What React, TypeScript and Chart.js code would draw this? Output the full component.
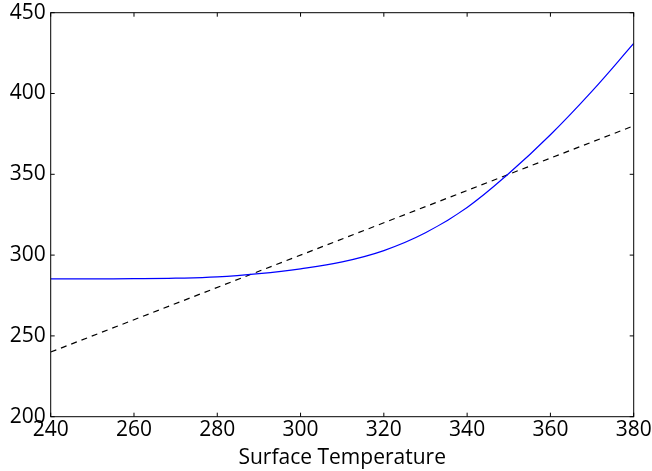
import React, { useEffect, useRef } from "react";
import { Chart, registerables } from "chart.js";

Chart.register(...registerables);

const temps = [240, 250, 260, 270, 280, 290, 300, 310, 320, 330, 340, 350, 360, 370, 380];
const outgoing = [285.3, 285.3, 285.4, 285.7, 286.5, 288.5, 291.5, 295.8, 302.8, 313.8, 329.5, 350.5, 374.5, 401.5, 431];
const refTemps = [240, 380];
const refValues = [240, 380];
const xTitle = "Surface Temperature";

const FONT = { family: "'Open Sans', sans-serif", size: 21 };

const frameTicks = {
  id: "frameTicks",
  afterDraw(chart: any) {
    const { ctx, chartArea, scales } = chart;
    const { left, right, top, bottom } = chartArea;
    const x = scales.x;
    const y = scales.y;
    ctx.save();
    ctx.strokeStyle = "#000";
    ctx.lineWidth = 1;
    ctx.strokeRect(left, top, right - left, bottom - top);
    const L = 4;
    ctx.beginPath();
    x.ticks.forEach((t: any) => {
      const px = x.getPixelForValue(t.value);
      ctx.moveTo(px, bottom);
      ctx.lineTo(px, bottom - L);
      ctx.moveTo(px, top);
      ctx.lineTo(px, top + L);
    });
    y.ticks.forEach((t: any) => {
      const py = y.getPixelForValue(t.value);
      ctx.moveTo(left, py);
      ctx.lineTo(left + L, py);
      ctx.moveTo(right, py);
      ctx.lineTo(right - L, py);
    });
    ctx.stroke();
    ctx.restore();
  },
};

export default function App() {
  const ref = useRef<HTMLCanvasElement>(null);
  useEffect(() => {
    const chart = new Chart(ref.current!, {
      type: "line",
      data: {
        datasets: [
          {
            data: temps.map((t, i) => ({ x: t, y: outgoing[i] })),
            borderColor: "#0000ff",
            borderWidth: 1.2,
            pointRadius: 0,
            tension: 0.4,
            fill: false,
          },
          {
            data: refTemps.map((t, i) => ({ x: t, y: refValues[i] })),
            borderColor: "#000000",
            borderWidth: 1.2,
            borderDash: [6, 5],
            pointRadius: 0,
            fill: false,
          },
        ],
      },
      options: {
        responsive: false,
        animation: false,
        devicePixelRatio: 1,
        layout: { padding: { top: 12.7, right: 18.3, left: 0, bottom: 0 } },
        plugins: { legend: { display: false }, tooltip: { enabled: false } },
        scales: {
          x: {
            type: "linear",
            min: 240,
            max: 380,
            grid: { display: false, drawTicks: false },
            border: { display: false },
            ticks: { stepSize: 20, color: "#000", font: FONT, padding: 1, maxRotation: 0 },
            title: { display: true, text: xTitle, color: "#000", font: FONT, padding: { top: 0, bottom: 0 } },
            afterFit: (s: any) => {
              s.height = 54.3;
              s.paddingLeft = 0;
              s.paddingRight = 0;
            },
          },
          y: {
            type: "linear",
            min: 200,
            max: 450,
            grid: { display: false, drawTicks: false },
            border: { display: false },
            ticks: { stepSize: 50, color: "#000", font: FONT, padding: 5 },
            afterFit: (s: any) => {
              s.width = 50.7;
              s.paddingTop = 0;
              s.paddingBottom = 0;
            },
          },
        },
      },
      plugins: [frameTicks],
    });
    return () => chart.destroy();
  }, []);
  return (
    <div style={{ position: "fixed", left: 0, top: 0, width: 652, height: 471, background: "#fff" }}>
      <canvas ref={ref} width={652} height={471} />
    </div>
  );
}
